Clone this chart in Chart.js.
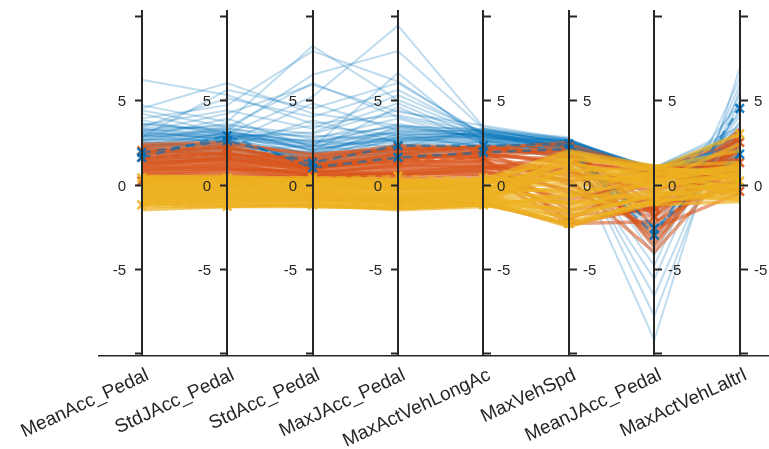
<!DOCTYPE html>
<html>
<head>
<meta charset="utf-8">
<script src="https://cdn.jsdelivr.net/npm/chart.js@4.4.0/dist/chart.umd.min.js"></script>
<style>
  html, body { margin: 0; padding: 0; background: #fff; overflow: hidden; }
  canvas { display: block; }
</style>
</head>
<body>
<canvas id="pc" width="769" height="449"></canvas>
<script>
// parallel coordinates, one axis per feature
const categories = ['MeanAcc_Pedal', 'StdJAcc_Pedal', 'StdAcc_Pedal', 'MaxJAcc_Pedal',
  'MaxActVehLongAc', 'MaxVehSpd', 'MeanJAcc_Pedal', 'MaxActVehLaltrl'];
const axisTicks = [-10, -5, 0, 5, 10];
const axisTickLabels = ['', '-5', '0', '5', ''];

// group 1 (blue)
const blueLines = [
  [6.2, 5.3, 3.6, 4.1, 3.1, 2.2, 0.9, 2.8],
  [4.7, 3.7, 8.2, 5.0, 3.0, 2.0, 0.8, 2.2],
  [4.5, 6.0, 4.2, 3.5, 2.8, 2.5, 1.0, 3.4],
  [4.2, 3.0, 5.2, 9.4, 3.4, 2.6, 0.7, 2.5],
  [3.9, 4.7, 7.9, 6.1, 2.9, 2.2, 0.9, 3.0],
  [3.6, 3.2, 6.5, 7.9, 3.3, 2.4, -6.6, 5.0],
  [3.4, 5.1, 4.0, 5.6, 3.0, 2.1, -9.2, 6.9],
  [3.3, 2.8, 3.1, 4.8, 2.7, 2.3, -4.8, 6.3],
  [3.1, 4.2, 5.9, 4.3, 3.5, 2.7, -7.8, 5.6],
  [3.0, 3.6, 2.7, 3.9, 2.6, 1.9, -2.4, 4.0],
  [2.9, 2.5, 4.8, 3.2, 3.2, 2.5, 0.6, 1.6],
  [2.8, 3.9, 2.2, 6.6, 2.5, 2.0, -3.6, 3.7],
  [2.7, 2.6, 3.5, 2.9, 3.1, 2.6, 1.0, 2.0],
  [2.6, 3.3, 2.0, 4.6, 2.4, 1.8, -1.5, 4.8],
  [2.5, 2.2, 3.8, 2.5, 2.9, 2.3, 0.8, 1.2],
  [2.4, 3.0, 1.7, 3.4, 2.8, 2.1, -5.6, 5.9],
  [2.3, 2.7, 2.6, 2.2, 3.3, 2.4, 0.5, 2.6],
  [2.2, 2.4, 1.5, 3.0, 2.2, 1.6, 0.9, 1.0],
  [2.1, 2.9, 2.9, 2.6, 2.7, 2.2, -2.8, 3.3],
  [2.0, 2.1, 1.9, 2.0, 2.5, 2.0, 1.0, 1.5],
  [1.9, 2.6, 1.3, 2.8, 2.3, 2.5, 0.7, 1.9],
  [1.8, 2.0, 2.3, 1.8, 2.6, 1.9, -0.8, 3.6],
  [1.7, 2.3, 1.1, 2.4, 2.1, 2.3, 0.8, 1.4],
  [1.6, 1.9, 1.8, 1.7, 2.4, 2.0, 1.0, 2.3],
  [1.5, 2.2, 1.0, 2.1, 2.0, 1.7, -2.0, 4.2],
  [1.4, 1.8, 1.4, 1.6, 2.2, 2.2, 0.9, 1.7],
  [1.3, 1.7, 0.9, 1.9, 1.9, 2.4, 0.6, 1.1],
  [1.2, 1.6, 1.2, 1.5, 2.0, 1.8, 1.0, 2.0],
  [3.8, 2.9, 2.4, 3.6, 2.8, 2.6, 0.8, 2.9],
  [3.5, 4.4, 3.3, 5.3, 3.1, 2.3, -3.3, 4.4],
  [4.4, 3.4, 6.0, 4.0, 2.9, 2.1, 0.9, 2.1],
  [2.8, 5.6, 4.5, 6.0, 3.0, 2.5, 0.7, 3.1],
  [3.2, 3.5, 3.0, 4.4, 3.2, 2.8, -4.2, 5.3],
  [2.6, 2.8, 2.1, 2.7, 2.9, 2.6, 0.9, 2.4],
  [2.2, 3.1, 2.5, 3.1, 2.7, 2.4, 0.8, 1.8],
  [1.9, 2.4, 1.6, 2.3, 2.6, 2.2, 1.0, 2.7],
  [2.9, 3.2, 2.0, 2.9, 3.0, 2.4, 0.9, 1.3],
  [2.5, 2.7, 1.8, 2.6, 2.8, 2.3, 0.7, 2.1],
  [2.3, 2.5, 1.6, 2.4, 2.6, 2.1, 1.0, 1.6],
  [2.1, 2.6, 1.5, 2.2, 2.5, 2.5, 0.8, 2.6],
  [1.8, 2.2, 1.3, 2.0, 2.3, 2.0, 0.9, 1.2],
  [3.1, 2.7, 2.2, 3.3, 3.1, 2.7, 0.6, 2.2],
  [2.7, 3.4, 2.3, 2.8, 2.9, 2.2, 1.0, 3.2],
  [2.4, 2.3, 1.9, 2.5, 2.7, 2.6, 0.9, 1.5],
  [3.3, 3.0, 2.6, 3.1, 3.2, 2.5, 0.8, 2.0],
  [3.0, 2.9, 2.4, 3.0, 3.0, 2.6, 0.9, 2.5],
  [2.8, 3.1, 2.1, 2.8, 2.8, 2.4, 1.0, 1.9],
  [3.4, 3.3, 2.8, 3.4, 3.3, 2.7, 0.7, 2.3],
  [2.6, 3.0, 2.0, 2.7, 3.0, 2.3, 0.9, 1.4],
  [3.2, 2.6, 1.9, 3.2, 2.9, 2.5, 0.8, 1.7],
  [2.9, 2.8, 2.3, 2.6, 3.1, 2.2, 1.0, 2.8],
  [3.6, 3.1, 2.5, 3.5, 3.2, 2.6, 0.9, 2.4]
];
const blueMarked = [
  [1.6, 2.9, 1.0, 1.6, 1.9, 2.1, -3.0, 4.5],
  [1.9, 2.6, 1.3, 2.3, 2.3, 2.4, -2.6, 1.8]
];

// group 2 (orange)
const orangeLines = [
  [2.4, 2.5, 1.7, 2.3, 2.2, 2.4, 0.8, 1.5],
  [2.2, 2.1, 1.5, 2.0, 2.0, 2.0, -1.2, 2.8],
  [2.0, 2.3, 1.2, 1.8, 2.3, 1.6, 0.5, 0.9],
  [1.9, 1.7, 1.6, 2.1, 1.8, 2.2, -2.5, 3.2],
  [1.8, 2.0, 1.0, 1.5, 1.9, 1.2, 0.9, 1.2],
  [1.7, 1.5, 1.3, 1.9, 1.6, 0.8, -0.5, 2.0],
  [1.6, 1.9, 0.9, 1.3, 2.0, 1.9, -3.4, 2.5],
  [1.5, 1.4, 1.1, 1.7, 1.5, 0.5, 0.3, 0.6],
  [1.4, 1.6, 0.8, 1.1, 1.7, 1.5, -1.8, 1.8],
  [1.3, 1.2, 1.0, 1.4, 1.3, 0.2, 0.8, 0.3],
  [1.2, 1.5, 0.7, 1.0, 1.4, -0.5, -1.0, 1.4],
  [1.1, 1.1, 0.6, 1.2, 1.1, 1.1, -2.9, 2.2],
  [1.0, 1.3, 0.5, 0.8, 1.2, -1.2, 0.6, 0.0],
  [0.9, 0.9, 0.8, 0.6, 1.0, 0.7, -0.3, 0.8],
  [0.8, 1.0, 0.4, 0.9, 0.8, -1.8, -1.5, 1.0],
  [0.7, 0.8, 0.6, 0.5, 0.9, 1.8, 0.9, 2.6],
  [0.6, 0.7, 0.3, 0.7, 0.6, -2.3, -2.2, 0.4],
  [0.5, 0.6, 0.4, 0.4, 0.7, 0.3, -4.0, 1.6],
  [0.4, 0.5, 0.2, 0.3, 0.5, -0.9, 0.2, -0.4],
  [2.1, 1.8, 1.4, 2.2, 2.1, 2.5, -3.7, 3.0],
  [1.9, 2.2, 1.2, 1.6, 1.8, 1.3, 0.7, 1.9],
  [1.5, 1.8, 1.1, 1.5, 1.9, 0.0, -2.0, 2.4],
  [1.3, 1.4, 0.9, 1.8, 1.6, 2.1, 1.0, 1.1],
  [1.1, 1.6, 1.0, 1.3, 1.4, -1.5, -0.8, 0.2],
  [1.0, 1.0, 0.7, 1.1, 1.0, 0.9, -3.1, 2.9],
  [0.8, 1.2, 0.5, 0.7, 1.1, -2.1, 0.4, 0.7],
  [2.3, 2.4, 1.8, 2.1, 2.2, 1.7, -1.6, 3.3],
  [0.6, 0.9, 0.3, 0.6, 0.8, -0.3, -2.6, -0.5],
  [0.3, 0.4, -0.6, -1.0, -1.1, -2.4, -1.3, -0.2]
];
const orangeMarked = [
  [2.0, 2.2, 1.4, 2.2, 2.0, 2.3, -1.9, 2.5],
  [1.6, 1.8, 1.0, 1.4, 1.6, -2.2, -1.4, 1.3],
  [0.2, 0.1, -0.8, -1.0, -1.1, -2.3, -1.3, -0.4]
];

// group 3 (yellow)
const yellowLines = [
  [0.5, 0.4, 0.4, 0.3, 0.3, 2.0, 1.1, 1.3],
  [0.4, 0.5, 0.2, 0.1, 0.2, 1.6, 0.9, 0.8],
  [0.3, 0.2, 0.3, 0.2, 0.0, 1.2, 0.6, 1.1],
  [0.2, 0.3, 0.0, -0.1, 0.1, 0.8, 1.0, 0.4],
  [0.1, 0.0, 0.1, 0.0, -0.2, 0.4, 0.3, 0.9],
  [0.0, 0.1, -0.2, -0.3, -0.1, 0.0, 0.7, 0.2],
  [-0.1, -0.2, -0.1, -0.2, -0.3, -0.4, 0.0, 0.6],
  [-0.2, -0.1, -0.3, -0.4, -0.4, -0.8, 0.5, -0.2],
  [-0.3, -0.4, -0.5, -0.5, -0.5, -1.2, -0.3, 0.0],
  [-0.4, -0.3, -0.4, -0.6, -0.6, -1.6, 0.2, -0.5],
  [-0.5, -0.6, -0.6, -0.7, -0.7, -2.0, -0.6, 0.3],
  [-0.6, -0.5, -0.7, -0.8, -0.8, -2.4, -0.9, -0.8],
  [-0.7, -0.8, -0.8, -0.9, -0.9, 1.8, 0.8, -0.3],
  [-0.8, -0.7, -0.9, -1.0, -0.9, 1.4, -0.1, 0.5],
  [-0.9, -1.0, -1.0, -1.1, -1.0, -1.0, -1.2, -1.0],
  [-1.0, -0.9, -1.1, -1.2, -1.1, 1.0, 0.4, -0.6],
  [-1.1, -1.2, -1.2, -1.3, -1.2, -1.9, -0.5, -0.9],
  [-1.2, -1.1, -1.3, -1.4, -1.2, -2.2, -1.0, -0.4],
  [-1.3, -1.3, -1.2, -1.5, -1.3, -0.6, -0.8, 0.1],
  [-1.5, -1.3, -1.3, -1.4, -1.2, -1.4, -0.4, -0.7],
  [0.4, 0.3, 0.3, 0.2, 0.3, 0.2, 1.0, 2.0],
  [0.2, 0.1, 0.2, 0.0, 0.0, 1.9, 0.9, 3.0],
  [-0.2, -0.3, -0.2, -0.1, -0.2, 0.6, 0.1, 2.4],
  [-0.6, -0.7, -0.5, -0.6, -0.5, -0.2, 0.6, 1.0],
  [-0.9, -0.8, -0.9, -0.9, -0.8, 0.9, -0.2, 0.7],
  [-1.1, -1.0, -0.9, -1.1, -1.0, -2.5, -1.1, -0.2],
  [0.0, -0.1, 0.0, -0.2, -0.1, -1.1, 0.2, 1.2],
  [-0.4, -0.5, -0.3, -0.3, -0.4, 1.5, 1.1, 0.4],
  [-0.7, -0.6, -0.7, -0.8, -0.7, -1.7, -0.7, -0.1],
  [0.3, 0.4, 0.1, 0.1, 0.2, -0.6, 0.8, 0.6]
];
const yellowMarked = [
  [0.4, 0.4, 0.4, 0.5, 0.4, 1.25, 0.5, 3.0],
  [-1.2, -1.3, -1.2, -1.2, -1.2, -2.3, -1.0, 0.2]
];

const BLUE = '0,114,189', ORANGE = '217,83,25', YELLOW = '237,177,32';

function toPoints(vals) {
  return vals.map((v, i) => ({ x: i + 1, y: v }));
}
function plainSet(vals, rgb, alpha, width, order) {
  return {
    data: toPoints(vals), borderColor: `rgba(${rgb},${alpha})`, borderWidth: width,
    pointRadius: 0, tension: 0, fill: false, order: order
  };
}
function markedSet(vals, rgb, order) {
  return {
    data: toPoints(vals), borderColor: `rgba(${rgb},0.6)`, borderWidth: 2.5,
    borderDash: [9, 6], pointStyle: 'crossRot', pointRadius: 6, pointBorderWidth: 2.5,
    pointBorderColor: `rgba(${rgb},0.9)`, pointBackgroundColor: 'transparent',
    tension: 0, fill: false, order: order
  };
}

const datasets = [];
blueLines.forEach(v => datasets.push(plainSet(v, BLUE, 0.25, 2, 6)));
orangeLines.forEach(v => datasets.push(plainSet(v, ORANGE, 0.55, 3.5, 4)));
blueMarked.forEach(v => datasets.push(markedSet(v, BLUE, 3)));
orangeMarked.forEach(v => datasets.push(markedSet(v, ORANGE, 3)));
yellowLines.forEach(v => datasets.push(plainSet(v, YELLOW, 0.7, 3.5, 2)));
yellowMarked.forEach(v => datasets.push(markedSet(v, YELLOW, 1)));

// draws the vertical coordinate axes with their ticks
const parallelAxes = {
  id: 'parallelAxes',
  afterDatasetsDraw(chart) {
    const { ctx, chartArea, scales: { x, y } } = chart;
    ctx.save();
    ctx.strokeStyle = '#262626';
    ctx.fillStyle = '#262626';
    ctx.font = '15px "Liberation Sans", Arial, sans-serif';
    ctx.textBaseline = 'middle';
    categories.forEach((c, i) => {
      const px = Math.round(x.getPixelForValue(i + 1));
      const onLeft = i < 4;
      ctx.lineWidth = 2;
      ctx.beginPath();
      ctx.moveTo(px, chartArea.top);
      ctx.lineTo(px, chartArea.bottom);
      ctx.stroke();
      axisTicks.forEach((t, k) => {
        const py = Math.round(y.getPixelForValue(t)) + 0.5;
        ctx.lineWidth = 2;
        ctx.beginPath();
        ctx.moveTo(px, py);
        ctx.lineTo(onLeft ? px - 7 : px + 8, py);
        ctx.stroke();
        if (axisTickLabels[k]) {
          ctx.textAlign = onLeft ? 'right' : 'left';
          ctx.fillText(axisTickLabels[k], onLeft ? px - 16 : px + 14, py + 1);
        }
      });
    });
    ctx.restore();
  }
};

Chart.defaults.font.family = '"Liberation Sans", Arial, sans-serif';
Chart.defaults.color = '#262626';

new Chart(document.getElementById('pc'), {
  type: 'line',
  data: { datasets: datasets },
  options: {
    responsive: false,
    animation: false,
    events: [],
    layout: { autoPadding: false, padding: { top: 10, left: 99, right: 0, bottom: 0 } },
    plugins: { legend: { display: false }, tooltip: { enabled: false } },
    scales: {
      x: {
        type: 'linear',
        min: 0.5,
        max: 8.343,
        grid: { display: false, drawTicks: false },
        border: { display: true, color: '#262626', width: 1.5 },
        afterBuildTicks: s => { s.ticks = categories.map((c, i) => ({ value: i + 1 })); },
        afterFit: s => { s.height = 93; s.paddingRight = 0; s.paddingLeft = 0; },
        ticks: {
          autoSkip: false,
          minRotation: 25,
          maxRotation: 25,
          padding: 8,
          labelOffset: 6,
          font: { size: 19 },
          color: '#262626',
          callback: v => categories[v - 1]
        }
      },
      y: {
        display: false,
        min: -10.15,
        max: 10.33
      }
    }
  },
  plugins: [parallelAxes]
});
</script>
</body>
</html>
